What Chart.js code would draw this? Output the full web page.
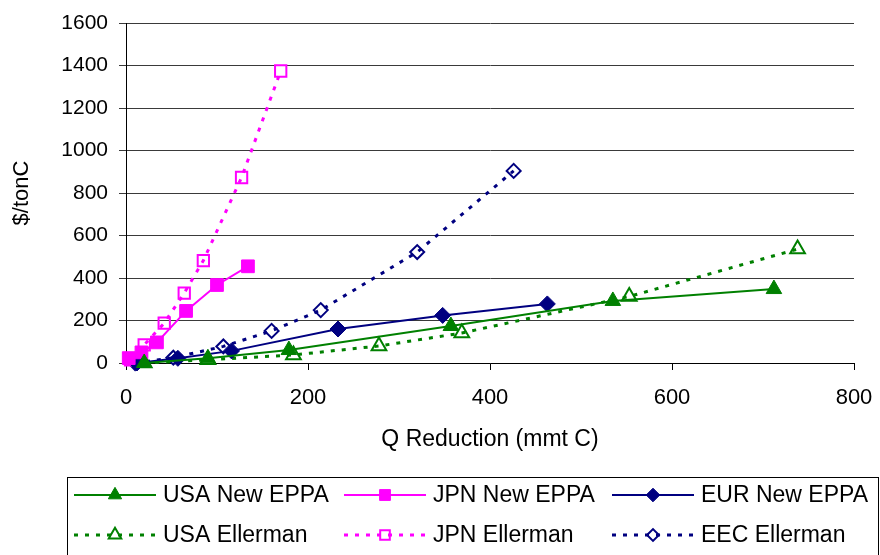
<!DOCTYPE html>
<html>
<head>
<meta charset="utf-8">
<script src="https://cdn.jsdelivr.net/npm/chart.js@4.4.1/dist/chart.umd.min.js"></script>
<style>
    html, body { margin: 0; padding: 0; background: #fff; }
    canvas { display: block; }
</style>
</head>
<body>
<canvas id="costChart" width="880" height="555"></canvas>
<script>
// values
const usaNewX = [20, 90, 179, 357, 535, 712];
const usaNewY = [0, 22, 61, 174, 292, 348];

const jpnNewX = [3, 17, 34, 66, 100, 134];
const jpnNewY = [23, 50, 97, 245, 367, 455];

const eurNewX = [12, 57, 116, 233, 348, 463];
const eurNewY = [0, 22, 57, 160, 224, 278];

const usaEllX = [20, 90, 184, 278, 369, 553, 738];
const usaEllY = [0, 15, 38, 80, 141, 313, 536];

const jpnEllX = [5, 20, 42, 64, 85, 127, 170];
const jpnEllY = [15, 85, 188, 329, 482, 873, 1374];

const eecEllX = [10, 52, 107, 160, 214, 320, 426];
const eecEllY = [0, 25, 78, 151, 249, 522, 904];

const xTicks = [0, 200, 400, 600, 800];
const yTicks = [0, 200, 400, 600, 800, 1000, 1200, 1400, 1600];

const seriesLabels = ['USA New EPPA', 'JPN New EPPA', 'EUR New EPPA', 'USA Ellerman', 'JPN Ellerman', 'EEC Ellerman'];

const GREEN = '#008000';
const MAGENTA = '#FF00FF';
const NAVY = '#000080';
const FONT = '"Liberation Sans", Arial, sans-serif';

function toPoints(xs, ys) {
    return xs.map((x, i) => ({ x: x, y: ys[i] }));
}

function solidSeries(label, xs, ys, color, style, radius) {
    return {
        label: label,
        data: toPoints(xs, ys),
        borderColor: color,
        backgroundColor: color,
        borderWidth: 2,
        pointStyle: style,
        pointRadius: radius,
        pointBackgroundColor: color,
        pointBorderColor: color,
        pointBorderWidth: 1,
        tension: 0,
        clip: false
    };
}

function dottedSeries(label, xs, ys, color, style, radius) {
    return {
        label: label,
        data: toPoints(xs, ys),
        borderColor: color,
        backgroundColor: 'rgba(0,0,0,0)',
        borderWidth: 3,
        borderDash: [4, 7],
        pointStyle: style,
        pointRadius: radius,
        pointBackgroundColor: 'rgba(0,0,0,0)',
        pointBorderColor: color,
        pointBorderWidth: 2,
        tension: 0,
        clip: false
    };
}

// legend drawn in the box under the plot, 3 columns x 2 rows like the original
const boxLegend = {
    id: 'boxLegend',
    afterDraw(chart) {
        const ctx = chart.ctx;
        ctx.save();
        ctx.strokeStyle = '#000';
        ctx.lineWidth = 1;
        ctx.strokeRect(67.5, 477.5, 811, 90);

        const colX = [74, 344, 612];
        const rowY = [495, 535];
        chart.data.datasets.forEach((ds, i) => {
            const x0 = colX[i % 3];
            const y = rowY[Math.floor(i / 3)];
            ctx.save();
            ctx.strokeStyle = ds.borderColor;
            ctx.lineWidth = ds.borderWidth;
            ctx.setLineDash(ds.borderDash || []);
            ctx.beginPath();
            ctx.moveTo(x0, y);
            ctx.lineTo(x0 + 82, y);
            ctx.stroke();
            ctx.setLineDash([]);
            ctx.fillStyle = ds.pointBackgroundColor;
            ctx.strokeStyle = ds.pointBorderColor;
            ctx.lineWidth = ds.pointBorderWidth;
            Chart.helpers.drawPoint(ctx, {
                pointStyle: ds.pointStyle,
                rotation: 0,
                radius: ds.pointRadius * 0.85,
                borderWidth: ds.pointBorderWidth
            }, x0 + 41, y);
            ctx.restore();

            ctx.fillStyle = '#000';
            ctx.font = '23px ' + FONT;
            ctx.textAlign = 'left';
            ctx.textBaseline = 'middle';
            ctx.fillText(ds.label, x0 + 89, y + 1);
        });
        ctx.restore();
    }
};

Chart.defaults.font.family = FONT;
Chart.defaults.color = '#000';

new Chart(document.getElementById('costChart'), {
    type: 'line',
    data: {
        datasets: [
            solidSeries(seriesLabels[0], usaNewX, usaNewY, GREEN, 'triangle', 9),
            solidSeries(seriesLabels[1], jpnNewX, jpnNewY, MAGENTA, 'rect', 9),
            solidSeries(seriesLabels[2], eurNewX, eurNewY, NAVY, 'rectRot', 8),
            dottedSeries(seriesLabels[3], usaEllX, usaEllY, GREEN, 'triangle', 8.5),
            dottedSeries(seriesLabels[4], jpnEllX, jpnEllY, MAGENTA, 'rect', 8),
            dottedSeries(seriesLabels[5], eecEllX, eecEllY, NAVY, 'rectRot', 7)
        ]
    },
    options: {
        responsive: false,
        animation: false,
        devicePixelRatio: 1,
        layout: {
            padding: { left: 0, top: 23, right: 26, bottom: 102 }
        },
        plugins: {
            legend: { display: false },
            tooltip: { enabled: false }
        },
        scales: {
            x: {
                type: 'linear',
                min: xTicks[0],
                max: xTicks[xTicks.length - 1],
                afterBuildTicks: (scale) => { scale.ticks = xTicks.map(v => ({ value: v })); },
                afterFit: (scale) => {
                    scale.height = 90;
                    scale.paddingLeft = 0;
                    scale.paddingRight = 0;
                },
                grid: {
                    drawOnChartArea: false,
                    color: '#000',
                    tickLength: 7
                },
                border: { color: '#000', width: 1 },
                ticks: {
                    padding: 15,
                    maxRotation: 0,
                    font: { size: 22 },
                    callback: (value) => String(value)
                },
                title: {
                    display: true,
                    text: 'Q Reduction (mmt C)',
                    padding: 0,
                    font: { size: 23 }
                }
            },
            y: {
                type: 'linear',
                min: yTicks[0],
                max: yTicks[yTicks.length - 1],
                afterBuildTicks: (scale) => { scale.ticks = yTicks.map(v => ({ value: v })); },
                afterFit: (scale) => {
                    scale.width = 126;
                    scale.paddingTop = 0;
                    scale.paddingBottom = 0;
                },
                grid: {
                    color: '#3a3a3a',
                    tickLength: 7
                },
                border: { color: '#000', width: 1 },
                ticks: {
                    padding: 11,
                    font: { size: 21 },
                    callback: (value) => String(value)
                },
                title: {
                    display: true,
                    text: '$/tonC',
                    padding: { top: 9, bottom: 0 },
                    font: { size: 22 }
                }
            }
        }
    },
    plugins: [boxLegend]
});
</script>
</body>
</html>
